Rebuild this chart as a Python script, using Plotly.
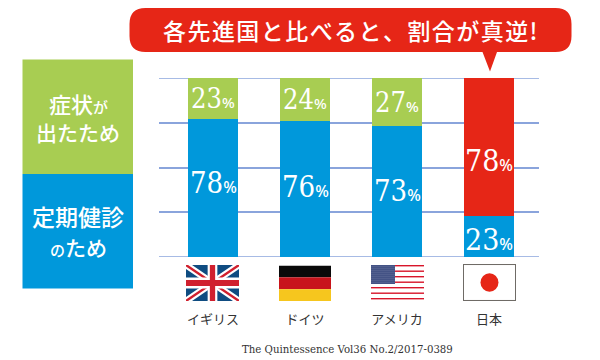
import base64
import plotly.graph_objects as go

countries = ["イギリス", "ドイツ", "アメリカ", "日本"]
checkup = [78, 76, 73, 23]
symptom = [23, 24, 27, 78]
checkup_label_shift = [5, 2, 1, -3]
symptom_label_shift = [0, 0, 0, -13]
symptom_colors = ["#A8CD52", "#A8CD52", "#A8CD52", "#E62617"]
symptom_sizes = [27, 27, 27, 30]
checkup_sizes = [29, 29, 29, 30]
callout_text = "各先進国と比べると、割合が真逆!"
source_text = "The Quintessence Vol36 No.2/2017-0389"

W, H = 600, 360
PL, PR, PT, PB = 159, 539, 78, 257
BLUE = "#0098DB"
GREEN = "#A8CD52"
RED = "#E62617"
GRID = "#8AA4DC"
JP = "Noto Sans CJK JP"
NUM = "DejaVu Serif Condensed"

def px(x):
    return (x - PL) / (PR - PL)

def py(y):
    return 1 - (y - PT) / (PB - PT)

def svg_uri(svg):
    return "data:image/svg+xml;base64," + base64.b64encode(svg.encode()).decode()

uk = '''<svg xmlns="http://www.w3.org/2000/svg" viewBox="0 0 60 36" preserveAspectRatio="none">
<rect width="60" height="36" fill="#0F4C81"/>
<path d="M0 0L60 36M60 0L0 36" stroke="#fff" stroke-width="7"/>
<path d="M0 0L60 36M60 0L0 36" stroke="#D0202E" stroke-width="2.4"/>
<path d="M30 0V36M0 18H60" stroke="#fff" stroke-width="11"/>
<path d="M30 0V36M0 18H60" stroke="#D0202E" stroke-width="6"/></svg>'''
de = '''<svg xmlns="http://www.w3.org/2000/svg" viewBox="0 0 3 3" preserveAspectRatio="none">
<rect width="3" height="1" fill="#0A0A0A"/><rect y="1" width="3" height="1" fill="#C8141C"/>
<rect y="2" width="3" height="1" fill="#F6C61E"/></svg>'''
stripes = "".join(f'<rect y="{i}" width="53" height="1.4" fill="#D8152A"/>' for i in [0, 5.5, 11, 16.5, 22, 27.5, 33])
us = f'''<svg xmlns="http://www.w3.org/2000/svg" viewBox="0 0 53 36" preserveAspectRatio="none">
<rect width="53" height="36" fill="#fff"/>{stripes}
<defs><pattern id="s" width="2" height="2" patternUnits="userSpaceOnUse"><rect width="2" height="2" fill="#22356E"/>
<circle cx="1" cy="1" r=".55" fill="#DDE"/></pattern></defs>
<rect width="24" height="19" fill="url(#s)"/></svg>'''
jp = '''<svg xmlns="http://www.w3.org/2000/svg" viewBox="0 0 53 36" preserveAspectRatio="none">
<rect x=".5" y=".5" width="52" height="35" fill="#fff" stroke="#6F6B66" stroke-width="1"/>
<circle cx="26.5" cy="18" r="9" fill="#E62617"/></svg>'''
flags = [(uk, 186, 265, 53, 36), (de, 279, 265.5, 52, 35.5), (us, 371, 265, 53, 36), (jp, 463, 264, 53, 37)]

fig = go.Figure()
fig.add_bar(x=list(range(4)), y=checkup, marker=dict(color=BLUE, line=dict(width=0)), width=0.54)
fig.add_bar(x=list(range(4)), y=symptom, marker=dict(color=symptom_colors, line=dict(width=0)), width=0.54)

annotations = []

def pct_text(v, size):
    return (f'{v}<span style="font-size:{round(size * 0.55)}px;font-family:\'Noto Sans\';'
            f'font-weight:500">%</span>')

for i in range(4):
    total = checkup[i] + symptom[i]
    c = checkup[i] / total * 100
    s = symptom[i] / total * 100
    annotations.append(dict(x=i, y=c / 2, xref="x", yref="y", yshift=checkup_label_shift[i], showarrow=False,
                            text=pct_text(checkup[i], checkup_sizes[i]),
                            font=dict(family=NUM, size=checkup_sizes[i], color="white")))
    annotations.append(dict(x=i, y=c + s / 2, xref="x", yref="y", yshift=symptom_label_shift[i], showarrow=False,
                            text=pct_text(symptom[i], symptom_sizes[i]),
                            font=dict(family=NUM, size=symptom_sizes[i], color="white")))

def note(x, y, text, size, family=JP, color="white", weight=500):
    annotations.append(dict(x=px(x), y=py(y), xref="paper", yref="paper", showarrow=False, text=text,
                            xanchor="center", yanchor="middle",
                            font=dict(family=family, size=size, color=color, weight=weight)))

note(349.5, 30.5, "\u200a".join(callout_text), 23)
note(78, 103, '症状<span style="font-size:15px">が</span>', 22)
note(78, 132, "出たため", 21)
note(78, 216, "定期健診", 23)
note(78, 247, '<span style="font-size:15px">の</span>ため', 21)
note(347.5, 349, source_text, 10.2, family="DejaVu Serif", color="#333333", weight=400)

shapes = [
    dict(type="rect", xref="paper", yref="paper", x0=px(22.5), x1=px(133), y0=py(59.5), y1=py(174),
         fillcolor=GREEN, line=dict(width=0), layer="below"),
    dict(type="rect", xref="paper", yref="paper", x0=px(22.5), x1=px(133), y0=py(174), y1=py(288.5),
         fillcolor=BLUE, line=dict(width=0), layer="below"),
    dict(type="line", xref="paper", yref="y", x0=0, x1=1, y0=0, y1=0, line=dict(color=GRID, width=1.5), layer="below"),
    dict(type="line", xref="paper", yref="y", x0=0, x1=1, y0=100, y1=100, line=dict(color=GRID, width=1.5), layer="below"),
]
L, R, T, B, r = 129.5, 571.5, 8, 52, 16
corners = [
    f"M{px(L + r)},{py(T)}", f"L{px(R - r)},{py(T)}", f"Q{px(R)},{py(T)} {px(R)},{py(T + r)}",
    f"L{px(R)},{py(B - r)}", f"Q{px(R)},{py(B)} {px(R - r)},{py(B)}",
    f"L{px(497)},{py(B)}", f"L{px(490)},{py(71.5)}", f"L{px(482.5)},{py(B)}",
    f"L{px(L + r)},{py(B)}", f"Q{px(L)},{py(B)} {px(L)},{py(B - r)}",
    f"L{px(L)},{py(T + r)}", f"Q{px(L)},{py(T)} {px(L + r)},{py(T)}", "Z",
]
shapes.append(dict(type="path", xref="paper", yref="paper", path=" ".join(corners), fillcolor=RED, line=dict(width=0)))

images = [dict(source=svg_uri(s), xref="paper", yref="paper", x=px(x), y=py(y),
               sizex=w / (PR - PL), sizey=h / (PB - PT),
               xanchor="left", yanchor="top", sizing="stretch", layer="above") for s, x, y, w, h in flags]

fig.update_layout(
    width=W, height=H, autosize=False, barmode="stack", barnorm="percent", showlegend=False,
    margin=dict(l=PL, r=W - PR, t=PT, b=H - PB), paper_bgcolor="white", plot_bgcolor="white",
    annotations=annotations, shapes=shapes, images=images,
    xaxis=dict(range=[-0.587, 3.543], tickmode="array", tickvals=list(range(4)), ticktext=countries,
               ticks="outside", ticklen=50, tickcolor="rgba(0,0,0,0)", showgrid=False, zeroline=False, showline=False,
               tickfont=dict(family=JP, size=13, color="#333333")),
    yaxis=dict(range=[0, 100], dtick=25, showticklabels=False, ticks="", gridcolor=GRID, gridwidth=1.5,
               zeroline=False, showline=False),
)
fig.write_html("out.html", config=dict(displayModeBar=False), post_script="document.body.style.margin='0';")
